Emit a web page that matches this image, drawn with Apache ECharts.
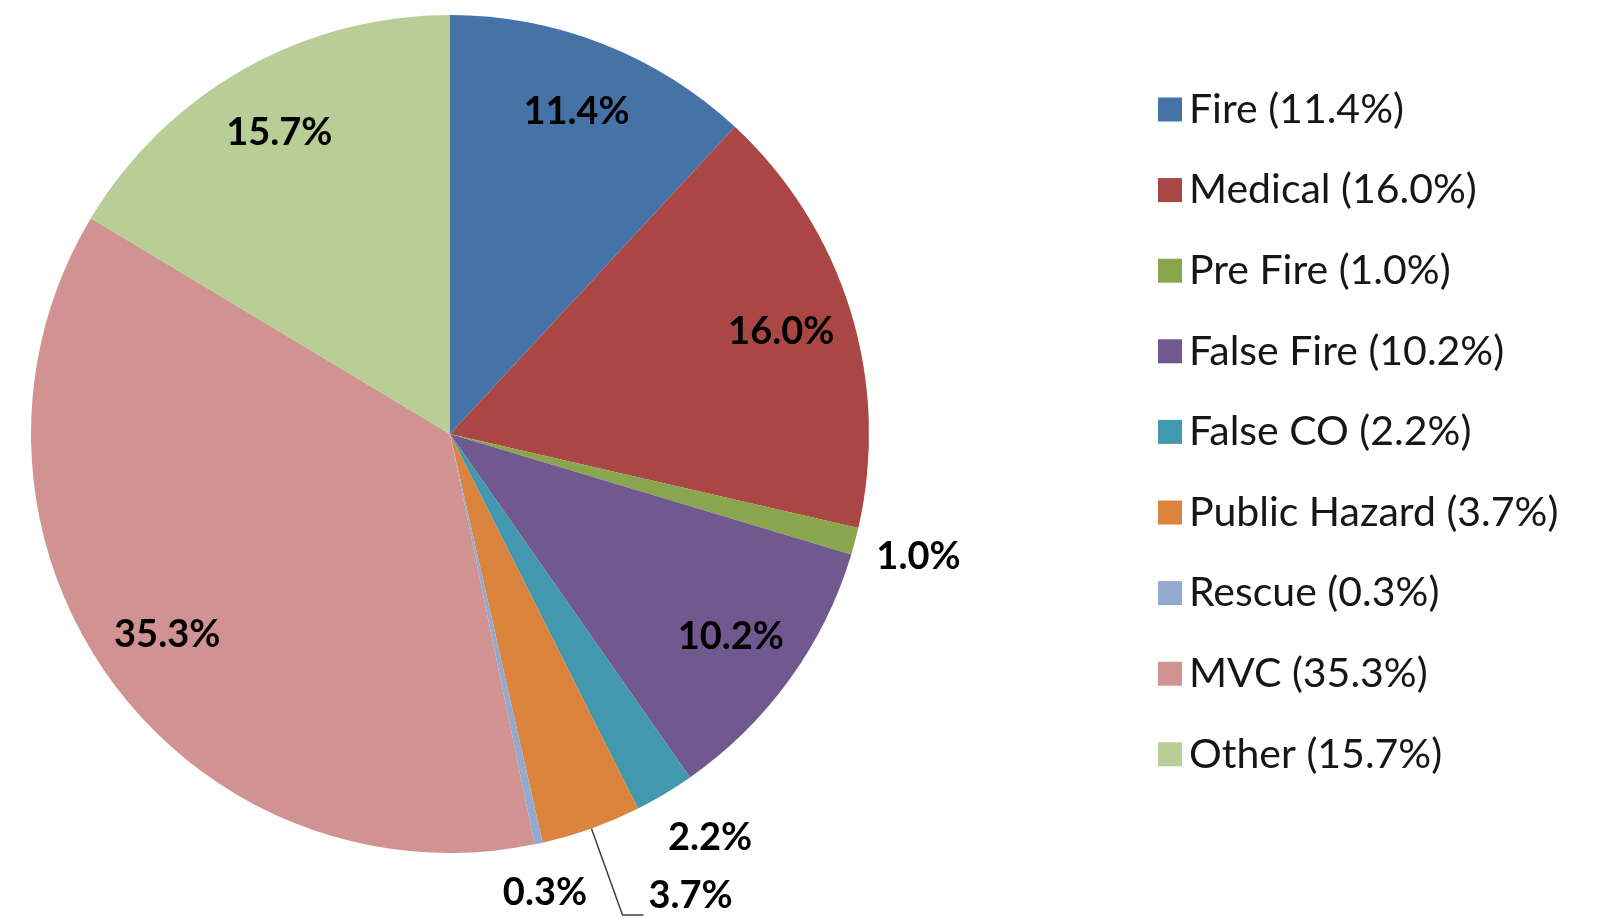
<!DOCTYPE html>
<html>
<head>
<meta charset="utf-8">
<script src="https://cdn.jsdelivr.net/npm/echarts@6/dist/echarts.min.js"></script>
<style>
    html, body { margin: 0; padding: 0; background: #fff; }
    #pieChart { width: 1600px; height: 919px; }
</style>
</head>
<body>
<div id="pieChart"></div>
<script>
// data
let categories = ['Fire', 'Medical', 'Pre Fire', 'False Fire', 'False CO', 'Public Hazard', 'Rescue', 'MVC', 'Other'];
let shares = [11.4, 16.0, 1.0, 10.2, 2.2, 3.7, 0.3, 35.3, 15.7];
let sliceColors = ['#4572A7', '#AA4643', '#89A54E', '#71588F', '#4198AF', '#DB843D', '#93A9CF', '#D19392', '#B9CD96'];

// small slices get their label outside the pie
let outsideTweaks = {
    'Pre Fire': { length: 20, length2: 0, line: false, dx: -3, dy: 10 },
    'False CO': { length: 20, length2: 0, line: false, dx: -12, dy: 27 },
    'Public Hazard': { length: 92, length2: 21, line: true, raise: true },
    'Rescue': { length: 20, length2: 0, line: false, dx: -45, dy: 30 }
};

let pieDom = document.getElementById('pieChart');
let pieChart = echarts.init(pieDom);
var option;

const R = 419;
const labelFont = {
    fontFamily: 'Lato',
    fontWeight: 'bold',
    fontSize: 38,
    lineHeight: 38,
    color: '#000'
};

let mainData = categories.map((name, i) => {
    let t = outsideTweaks[name];
    let item = { name: name, value: shares[i], itemStyle: { color: sliceColors[i] } };
    if (t) {
        item.label = { show: true, position: 'outside' };
        item.labelLine = { show: t.line, length: t.length, length2: t.length2 };
    } else {
        item.label = { show: false };
    }
    return item;
});

let overlayData = categories.map((name, i) => ({
    name: name,
    value: shares[i],
    label: { show: !outsideTweaks[name] }
}));

option = {
    animation: false,
    legend: {
        orient: 'vertical',
        left: 1153,
        top: 84,
        icon: 'rect',
        itemWidth: 24,
        itemHeight: 24,
        itemGap: 39.6,
        data: categories,
        formatter: function (name) {
            let i = categories.indexOf(name);
            return name + ' (' + shares[i].toFixed(1) + '%)';
        },
        textStyle: {
            fontFamily: 'Lato',
            fontSize: 41,
            lineHeight: 41,
            color: '#161616',
            padding: [0, 0, 0, 2]
        }
    },
    series: [
        {
            name: 'calls',
            type: 'pie',
            center: [450, 434],
            radius: [0, R],
            startAngle: 90,
            clockwise: true,
            avoidLabelOverlap: false,
            emphasis: { disabled: true },
            itemStyle: { borderWidth: 0 },
            label: Object.assign({
                formatter: function (p) {
                    let t = outsideTweaks[p.name];
                    // an empty second line lifts the text above the end of its leader line
                    return p.value.toFixed(1) + '%' + (t && t.raise ? '\n ' : '');
                }
            }, labelFont),
            labelLine: {
                lineStyle: { color: '#404040', width: 1.5 }
            },
            labelLayout: function (p) {
                let t = outsideTweaks[categories[p.dataIndex]];
                if (t && t.dx !== undefined) {
                    return { dx: t.dx, dy: t.dy };
                }
                return {};
            },
            data: mainData
        },
        {
            // transparent ring only used to place the inner labels
            name: 'labels',
            type: 'pie',
            center: [450, 434],
            radius: [R * 0.64, R],
            startAngle: 90,
            clockwise: true,
            silent: true,
            avoidLabelOverlap: false,
            itemStyle: { color: 'rgba(0,0,0,0)', borderWidth: 0 },
            label: Object.assign({
                position: 'inside',
                formatter: p => p.value.toFixed(1) + '%'
            }, labelFont),
            labelLine: { show: false },
            data: overlayData
        }
    ]
};
pieChart.setOption(option);
</script>
</body>
</html>
